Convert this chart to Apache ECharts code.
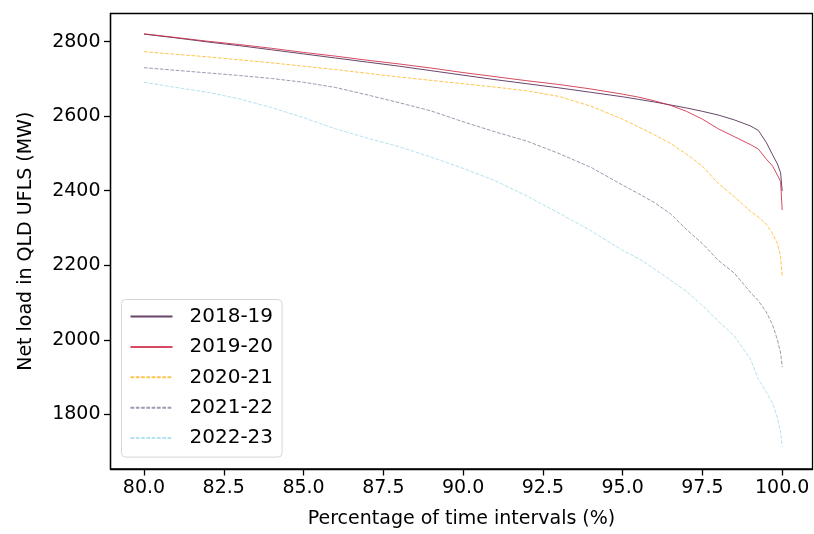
<!DOCTYPE html>
<html>
	<head>
		<meta charset="utf-8" />
    <title>QLD UFLS net load</title>
    <style>
      html, body { margin: 0; padding: 0; background: #fff; }
      #chartBox { width: 814px; height: 534px; }
    </style>
	</head>
	<body>
    <div id="chartBox"></div>
  </body>
  <script src="https://cdn.jsdelivr.net/npm/echarts@6/dist/echarts.min.js"></script>
  <script>
    // percentage of time intervals (%)
    var xPct = [80, 81, 82, 83, 84, 85, 86, 87, 88, 89, 90, 91, 92, 93, 94, 95, 95.5, 96, 96.5, 97, 97.5, 98, 98.5, 99, 99.25, 99.5, 99.7, 99.85, 99.95, 100];
    var seasonNames = ['2018-19', '2019-20', '2020-21', '2021-22', '2022-23'];
    // net load (MW)
    var load1819 = [2820, 2810, 2799, 2789, 2778, 2767, 2756, 2745, 2734, 2722, 2710, 2698, 2687, 2676, 2664, 2652, 2645, 2638, 2630, 2622, 2613, 2603, 2590, 2574, 2562, 2530, 2496, 2472, 2448, 2399];
    var load1920 = [2821, 2811, 2801, 2792, 2782, 2771, 2761, 2750, 2740, 2729, 2717, 2706, 2695, 2685, 2673, 2659, 2651, 2641, 2629, 2613, 2592, 2566, 2545, 2524, 2512, 2485, 2466, 2442, 2425, 2348];
    var load2021 = [2773, 2766, 2759, 2751, 2743, 2734, 2725, 2715, 2705, 2696, 2687, 2678, 2668, 2653, 2627, 2592, 2571, 2550, 2527, 2498, 2466, 2419, 2384, 2345, 2330, 2310, 2285, 2258, 2225, 2170];
    var load2122 = [2730, 2723, 2716, 2709, 2701, 2691, 2677, 2657, 2636, 2614, 2585, 2558, 2533, 2500, 2463, 2415, 2392, 2368, 2338, 2296, 2258, 2213, 2179, 2128, 2105, 2075, 2040, 2000, 1965, 1927];
    var load2223 = [2691, 2677, 2664, 2646, 2623, 2596, 2566, 2541, 2518, 2490, 2460, 2427, 2386, 2340, 2293, 2240, 2218, 2190, 2160, 2130, 2092, 2050, 2010, 1949, 1895, 1860, 1830, 1790, 1752, 1713];
    var xTicks = [80, 82.5, 85, 87.5, 90, 92.5, 95, 97.5, 100];
    var yTicks = [1800, 2000, 2200, 2400, 2600, 2800];

    var _fontSize = 19;
    var fontFamily = 'DejaVu Sans';

    function zip(xs, ys) {
      var out = [];
      for (var i = 0; i < xs.length; i++) {
        out.push([xs[i], ys[i]]);
      }
      return out;
    }

    function lineSeries(name, vals, color, dashed) {
      return {
        name: name,
        type: 'line',
        symbol: 'none',
        animation: false,
        lineStyle: {
          color: color,
          width: 1,
          opacity: 0.85,
          type: dashed ? [3.7, 1.6] : 'solid'
        },
        itemStyle: { color: color },
        data: zip(xPct, vals)
      };
    }

    var myChart = echarts.init(document.getElementById('chartBox'));
    var option = {
      animation: false,
      grid: {
        left: 110.5,
        right: 1.5,
        top: 13.5,
        bottom: 63.5,
        show: true,
        borderColor: '#000',
        borderWidth: 1.3,
        backgroundColor: 'transparent'
      },
      legend: {
        orient: 'vertical',
        left: 121.5,
        top: 299.5,
        padding: [7, 9, 9, 8],
        backgroundColor: '#fff',
        borderColor: '#d6d6d6',
        borderWidth: 1,
        borderRadius: 4,
        itemWidth: 42,
        itemHeight: 14,
        itemGap: 10.4,
        itemStyle: { opacity: 0 },
        textStyle: {
          fontSize: 20,
          fontFamily: fontFamily,
          color: '#000',
          padding: [0, 0, 0, 12]
        },
        data: seasonNames
      },
      xAxis: {
        type: 'value',
        min: 78.95,
        max: 100.95,
        name: 'Percentage of time intervals (%)',
        nameLocation: 'middle',
        nameGap: 41,
        nameTextStyle: { fontSize: _fontSize, fontFamily: fontFamily, color: '#000' },
        splitLine: { show: false },
        axisLine: { show: true, onZero: false, lineStyle: { color: '#000', width: 1.3 } },
        axisTick: { show: true, length: 6.5, customValues: xTicks, lineStyle: { color: '#000', width: 1.3 } },
        axisLabel: {
          customValues: xTicks,
          margin: 10,
          fontSize: _fontSize,
          fontFamily: fontFamily,
          color: '#000',
          formatter: function (v) { return v.toFixed(1); }
        }
      },
      yAxis: {
        type: 'value',
        min: 1653.5,
        max: 2875.4,
        name: 'Net load in QLD UFLS (MW)',
        nameLocation: 'middle',
        nameGap: 75,
        nameTextStyle: { fontSize: _fontSize, fontFamily: fontFamily, color: '#000' },
        splitLine: { show: false },
        axisLine: { show: true, onZero: false, lineStyle: { color: '#000', width: 1.3 } },
        axisTick: { show: true, length: 6.5, customValues: yTicks, lineStyle: { color: '#000', width: 1.3 } },
        axisLabel: {
          customValues: yTicks,
          margin: 10,
          fontSize: _fontSize,
          fontFamily: fontFamily,
          color: '#000',
          formatter: function (v) { return String(v); }
        }
      },
      series: [
        lineSeries(seasonNames[0], load1819, '#4e2650', false),
        lineSeries(seasonNames[1], load1920, '#cc2a45', false),
        lineSeries(seasonNames[2], load2021, '#ffbb2e', true),
        lineSeries(seasonNames[3], load2122, '#8e86a2', true),
        lineSeries(seasonNames[4], load2223, '#a6dcec', true)
      ]
    };
    myChart.setOption(option);
  </script>
  </html>
